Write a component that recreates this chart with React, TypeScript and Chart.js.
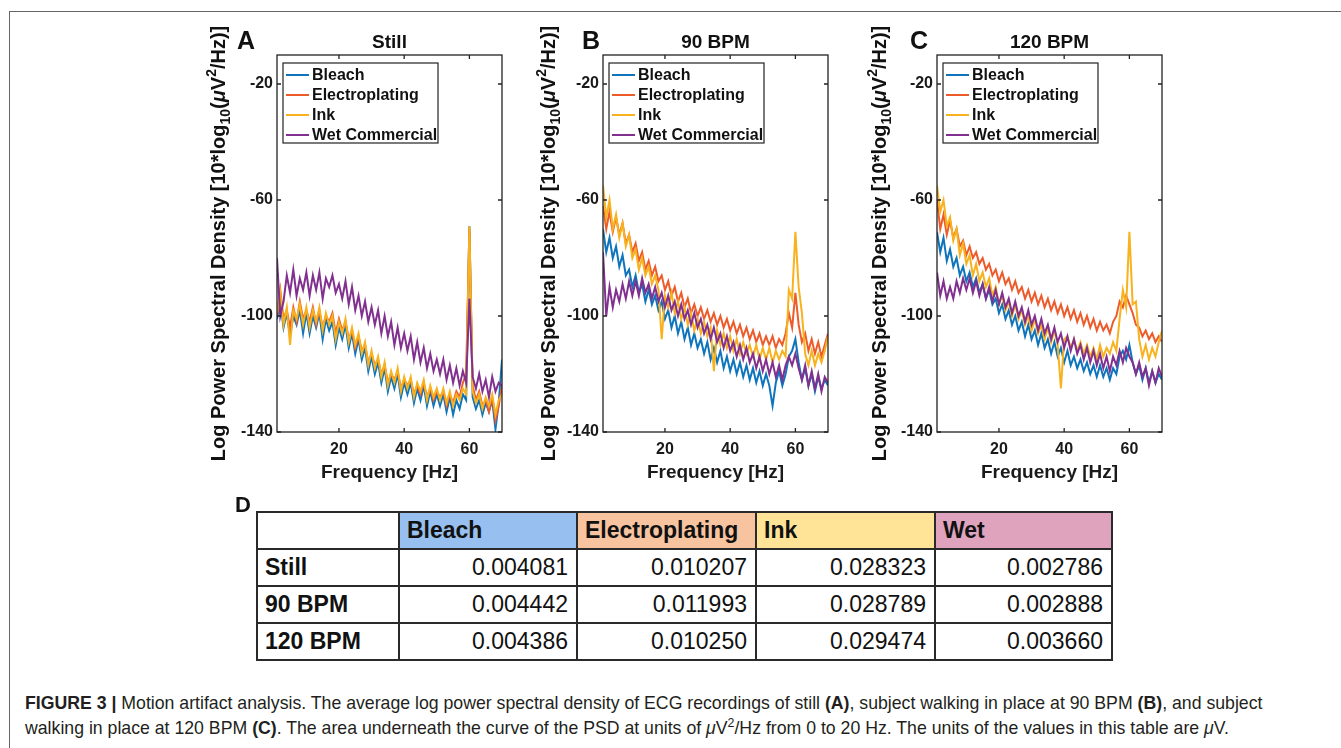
import React, { useEffect, useRef } from "react";
import { Chart, registerables } from "chart.js";

Chart.register(...registerables);

const FONT = "'Liberation Sans', Arial, Helvetica, sans-serif";

// ---------- data ----------
const frequencyHz = [
  1, 2, 3, 4, 5, 6, 7, 8, 9, 10,
  11, 12, 13, 14, 15, 16, 17, 18, 19, 20,
  21, 22, 23, 24, 25, 26, 27, 28, 29, 30,
  31, 32, 33, 34, 35, 36, 37, 38, 39, 40,
  41, 42, 43, 44, 45, 46, 47, 48, 49, 50,
  51, 52, 53, 54, 55, 56, 57, 58, 59, 60,
  61, 62, 63, 64, 65, 66, 67, 68, 69, 70,
];
const seriesNames = ["Bleach", "Electroplating", "Ink", "Wet Commercial"];
const seriesColors = ["#0E74BC", "#EE5B2B", "#F7B21E", "#82308F"];
const xTickValues = [20, 40, 60];
const yTickValues = [-140, -100, -60, -20];
const panelTitles = ["Still", "90 BPM", "120 BPM"];
const panelLetters = ["A", "B", "C"];

// Still
const stillBleach = [
  -101, -95, -104, -99, -107, -100, -103, -98, -106, -99,
  -106, -100, -104, -99, -108, -101, -105, -102, -110, -104,
  -108, -103, -111, -106, -113, -108, -115, -111, -119, -114,
  -120, -116, -123, -118, -126, -121, -125, -120, -128, -123,
  -127, -123, -130, -125, -129, -124, -131, -126, -131, -127,
  -131, -127, -133, -128, -134, -129, -132, -127, -129, -69,
  -128, -132, -129, -134, -130, -133, -129, -139, -130, -115,
];
const stillElectroplating = [
  -100, -91, -101, -98, -104, -97, -102, -95, -101, -98,
  -102, -97, -103, -98, -104, -100, -102, -99, -106, -101,
  -105, -102, -108, -105, -111, -107, -112, -110, -116, -113,
  -117, -115, -120, -117, -123, -120, -122, -119, -125, -122,
  -124, -122, -127, -124, -127, -123, -128, -125, -129, -126,
  -128, -126, -131, -127, -130, -126, -128, -123, -120, -70,
  -124, -129, -126, -131, -129, -133, -128, -136, -131, -124,
];
const stillInk = [
  -99, -92, -103, -97, -110, -98, -101, -96, -103, -97,
  -104, -98, -102, -97, -105, -99, -103, -100, -108, -102,
  -106, -101, -109, -104, -110, -106, -113, -109, -117, -112,
  -118, -114, -121, -116, -124, -119, -123, -118, -126, -121,
  -125, -121, -128, -123, -126, -122, -129, -124, -128, -125,
  -129, -125, -130, -126, -131, -127, -129, -125, -127, -69,
  -126, -130, -127, -132, -128, -131, -127, -134, -129, -127,
];
const stillWet = [
  -80, -100, -95, -86, -92, -84, -93, -87, -91, -85,
  -93, -86, -91, -85, -94, -87, -90, -86, -92, -89,
  -94, -88, -96, -90, -98, -93, -100, -95, -102, -97,
  -103, -98, -106, -100, -107, -102, -110, -104, -111, -106,
  -112, -107, -115, -109, -116, -111, -118, -113, -119, -115,
  -120, -115, -122, -117, -123, -118, -124, -119, -123, -94,
  -121, -125, -120, -126, -122, -128, -121, -126, -123, -124,
];

// 90 BPM
const bpm90Bleach = [
  -70, -78, -73, -80, -76, -83, -79, -86, -84, -90,
  -86, -92, -89, -95, -91, -96, -93, -98, -95, -101,
  -98, -104, -100, -106, -102, -108, -104, -110, -106, -111,
  -108, -113, -109, -115, -111, -116, -112, -118, -114, -119,
  -115, -120, -116, -121, -117, -122, -118, -123, -119, -124,
  -120, -124, -131, -123, -119, -124, -120, -114, -112, -108,
  -116, -122, -118, -124, -120, -126, -121, -125, -122, -124,
];
const bpm90Electroplating = [
  -62, -70, -64, -71, -66, -72, -68, -75, -72, -78,
  -75, -81, -78, -84, -81, -86, -83, -88, -86, -91,
  -88, -93, -90, -95, -92, -97, -94, -99, -96, -100,
  -97, -101, -98, -102, -99, -103, -100, -104, -101, -105,
  -102, -106, -103, -107, -104, -108, -105, -109, -106, -110,
  -107, -110, -107, -111, -108, -110, -106, -99, -104, -92,
  -103, -109, -106, -112, -108, -113, -109, -114, -110, -106,
];
const bpm90Ink = [
  -55, -66, -60, -70, -65, -73, -68, -76, -72, -80,
  -77, -84, -80, -86, -83, -89, -86, -91, -108, -93,
  -97, -92, -99, -95, -101, -97, -103, -99, -105, -101,
  -106, -102, -107, -104, -119, -105, -110, -106, -111, -107,
  -112, -108, -113, -109, -113, -110, -114, -110, -115, -111,
  -115, -111, -116, -112, -115, -112, -114, -91, -94, -71,
  -90, -99, -113, -117, -112, -117, -113, -116, -112, -107,
];
const bpm90Wet = [
  -78, -100, -90, -97, -91, -95, -89, -94, -88, -93,
  -88, -93, -87, -92, -89, -94, -90, -95, -92, -97,
  -93, -98, -95, -100, -96, -101, -98, -103, -99, -104,
  -101, -106, -103, -108, -104, -109, -106, -111, -107, -112,
  -109, -114, -110, -115, -111, -116, -113, -118, -114, -119,
  -115, -120, -116, -121, -117, -122, -117, -114, -117, -113,
  -118, -122, -117, -124, -119, -125, -120, -126, -121, -123,
];

// 120 BPM
const bpm120Bleach = [
  -71, -78, -73, -81, -77, -83, -80, -86, -83, -88,
  -85, -90, -87, -92, -89, -94, -91, -96, -94, -99,
  -96, -101, -98, -103, -100, -105, -102, -107, -103, -108,
  -105, -110, -106, -111, -108, -113, -109, -114, -111, -116,
  -112, -117, -114, -118, -115, -119, -116, -120, -117, -121,
  -117, -121, -118, -122, -118, -120, -114, -112, -115, -110,
  -116, -120, -117, -122, -118, -123, -119, -123, -120, -122,
];
const bpm120Electroplating = [
  -60, -70, -65, -72, -67, -73, -70, -76, -74, -79,
  -76, -80, -78, -82, -80, -84, -82, -86, -84, -88,
  -85, -89, -87, -91, -88, -92, -90, -94, -91, -95,
  -92, -96, -93, -97, -94, -98, -95, -99, -96, -100,
  -97, -101, -98, -102, -99, -103, -100, -104, -101, -105,
  -102, -105, -103, -106, -102, -100, -95, -97, -93, -96,
  -99, -103, -104, -107, -105, -108, -106, -109, -107, -109,
];
const bpm120Ink = [
  -55, -64, -60, -69, -66, -74, -70, -79, -75, -82,
  -79, -86, -82, -88, -85, -90, -87, -93, -90, -96,
  -93, -98, -95, -100, -96, -101, -98, -103, -100, -105,
  -101, -106, -103, -108, -104, -109, -105, -110, -125, -108,
  -107, -111, -108, -112, -109, -113, -110, -114, -111, -115,
  -110, -114, -111, -113, -109, -112, -101, -91, -97, -71,
  -96, -95, -108, -114, -110, -115, -111, -114, -109, -105,
];
const bpm120Wet = [
  -85, -93, -88, -94, -90, -94, -88, -92, -87, -91,
  -87, -92, -88, -93, -89, -94, -90, -95, -91, -96,
  -92, -97, -94, -99, -95, -100, -97, -102, -98, -103,
  -100, -105, -101, -106, -103, -108, -104, -109, -106, -111,
  -107, -112, -108, -113, -110, -115, -111, -116, -112, -117,
  -113, -118, -114, -119, -114, -117, -112, -116, -111, -114,
  -116, -120, -116, -121, -118, -124, -119, -123, -118, -121,
];

// Table D
const tableColumns = ["Bleach", "Electroplating", "Ink", "Wet"];
const tableRows = ["Still", "90 BPM", "120 BPM"];
const bleachArea = [0.004081, 0.004442, 0.004386];
const electroplatingArea = [0.010207, 0.011993, 0.01025];
const inkArea = [0.028323, 0.028789, 0.029474];
const wetArea = [0.002786, 0.002888, 0.00366];
const headerColors = ["#97BFEF", "#F8C4A0", "#FFE497", "#E0A3BE"];

// ---------- layout ----------
const panels = [
  { series: [stillBleach, stillElectroplating, stillInk, stillWet], plotLeft: 277, plotRight: 502, letterX: 237, yTitleX: 218 },
  { series: [bpm90Bleach, bpm90Electroplating, bpm90Ink, bpm90Wet], plotLeft: 603, plotRight: 828, letterX: 582, yTitleX: 548 },
  { series: [bpm120Bleach, bpm120Electroplating, bpm120Ink, bpm120Wet], plotLeft: 937, plotRight: 1162, letterX: 910, yTitleX: 879 },
];
const Y_AXIS_W = 80;
const CANVAS_TOP = 15;
const CANVAS_H = 480;
const PLOT_TOP = 55;
const PLOT_BOTTOM = 432;

function PSDPanel({ idx }: { idx: number }) {
  const ref = useRef<HTMLCanvasElement>(null);
  const cfg = panels[idx];
  const canvasLeft = cfg.plotLeft - Y_AXIS_W;
  const canvasW = cfg.plotRight - cfg.plotLeft + Y_AXIS_W + 8;

  useEffect(() => {
    const canvas = ref.current!;
    const decor = {
      id: "panelDecor" + idx,
      afterDraw(chart: any) {
        const { ctx, chartArea: a, scales } = chart;
        const xs = scales.x;
        const ys = scales.y;
        ctx.save();
        // axes box
        ctx.strokeStyle = "#222";
        ctx.lineWidth = 1.3;
        ctx.strokeRect(a.left, a.top, a.right - a.left, a.bottom - a.top);
        // inward ticks
        const tl = 4;
        ctx.beginPath();
        xs.ticks.forEach((t: any) => {
          const px = xs.getPixelForValue(t.value);
          ctx.moveTo(px, a.bottom);
          ctx.lineTo(px, a.bottom - tl);
          ctx.moveTo(px, a.top);
          ctx.lineTo(px, a.top + tl);
        });
        ys.ticks.forEach((t: any) => {
          const py = ys.getPixelForValue(t.value);
          ctx.moveTo(a.left, py);
          ctx.lineTo(a.left + tl, py);
          ctx.moveTo(a.right, py);
          ctx.lineTo(a.right - tl, py);
        });
        ctx.stroke();

        // legend
        const lx = a.left + 6;
        const ly = a.top + 8;
        const lw = 155;
        const lh = 80;
        ctx.fillStyle = "#fff";
        ctx.fillRect(lx, ly, lw, lh);
        ctx.strokeStyle = "#222";
        ctx.lineWidth = 1.2;
        ctx.strokeRect(lx, ly, lw, lh);
        ctx.font = `bold 16px ${FONT}`;
        ctx.textBaseline = "middle";
        ctx.textAlign = "left";
        chart.data.datasets.forEach((ds: any, i: number) => {
          const cy = ly + 12 + i * 20;
          ctx.strokeStyle = ds.borderColor;
          ctx.lineWidth = 2;
          ctx.beginPath();
          ctx.moveTo(lx + 3, cy);
          ctx.lineTo(lx + 26, cy);
          ctx.stroke();
          ctx.fillStyle = "#111";
          ctx.fillText(ds.label, lx + 29, cy + 1);
        });

        // title and panel letter
        ctx.fillStyle = "#111";
        ctx.textBaseline = "alphabetic";
        ctx.font = `bold 19px ${FONT}`;
        ctx.textAlign = "center";
        ctx.fillText(panelTitles[idx], (a.left + a.right) / 2, 48 - CANVAS_TOP);
        ctx.font = `bold 25px ${FONT}`;
        ctx.textAlign = "left";
        ctx.fillText(panelLetters[idx], cfg.letterX - canvasLeft, 48.5 - CANVAS_TOP);

        // y-axis title with sub/superscripts
        const fs = 20;
        const segs = [
          { t: "Log Power Spectral Density [10*log", s: 1, dy: 0, it: false },
          { t: "10", s: 0.7, dy: 0.25, it: false },
          { t: "(", s: 1, dy: 0, it: false },
          { t: "\u03bc", s: 1, dy: 0, it: true },
          { t: "V", s: 1, dy: 0, it: false },
          { t: "2", s: 0.7, dy: -0.45, it: false },
          { t: "/Hz)]", s: 1, dy: 0, it: false },
        ];
        const fontFor = (sg: any) => `${sg.it ? "italic " : ""}bold ${fs * sg.s}px ${FONT}`;
        let total = 0;
        segs.forEach((sg) => {
          ctx.font = fontFor(sg);
          total += ctx.measureText(sg.t).width;
        });
        ctx.translate(cfg.yTitleX - canvasLeft, (a.top + a.bottom) / 2);
        ctx.rotate(-Math.PI / 2);
        ctx.textAlign = "left";
        let u = -total / 2;
        const base = 0.36 * fs;
        segs.forEach((sg) => {
          ctx.font = fontFor(sg);
          ctx.fillText(sg.t, u, base + sg.dy * fs);
          u += ctx.measureText(sg.t).width;
        });
        ctx.restore();
      },
    };

    const chart = new Chart(canvas, {
      type: "line",
      data: {
        datasets: cfg.series.map((vals, i) => ({
          label: seriesNames[i],
          data: frequencyHz.map((f, j) => ({ x: f, y: vals[j] })),
          borderColor: seriesColors[i],
          backgroundColor: seriesColors[i],
          borderWidth: 2,
          pointRadius: 0,
          tension: 0,
          fill: false,
          order: seriesNames.length - i,
        })),
      },
      options: {
        responsive: false,
        animation: false,
        devicePixelRatio: 1,
        layout: { padding: { top: PLOT_TOP - CANVAS_TOP, right: 8, left: 0, bottom: 0 } },
        plugins: {
          legend: { display: false },
          tooltip: { enabled: false },
          title: { display: false },
        },
        scales: {
          x: {
            type: "linear",
            min: 1,
            max: 70,
            afterBuildTicks: (s: any) => {
              s.ticks = xTickValues.map((v) => ({ value: v }));
            },
            afterFit: (s: any) => {
              s.height = CANVAS_TOP + CANVAS_H - PLOT_BOTTOM;
            },
            grid: { display: false, drawTicks: false },
            border: { display: false },
            ticks: {
              font: { family: FONT, size: 16, weight: "bold" },
              color: "#1a1a1a",
              padding: 8,
              maxRotation: 0,
              autoSkip: false,
            },
            title: {
              display: true,
              text: "Frequency [Hz]",
              font: { family: FONT, size: 19, weight: "bold" },
              color: "#1a1a1a",
              padding: { top: 0, bottom: 11 },
            },
          },
          y: {
            type: "linear",
            min: -140,
            max: -10,
            afterBuildTicks: (s: any) => {
              s.ticks = yTickValues.map((v) => ({ value: v }));
            },
            afterFit: (s: any) => {
              s.width = Y_AXIS_W;
            },
            grid: { display: false, drawTicks: false },
            border: { display: false },
            ticks: {
              font: { family: FONT, size: 16, weight: "bold" },
              color: "#1a1a1a",
              padding: 4,
              autoSkip: false,
            },
          },
        },
      } as any,
      plugins: [decor],
    });
    return () => chart.destroy();
  }, []);

  return (
    <canvas
      ref={ref}
      width={canvasW}
      height={CANVAS_H}
      style={{ position: "absolute", left: canvasLeft, top: CANVAS_TOP, width: canvasW, height: CANVAS_H }}
    />
  );
}

const colWidths = [142, 178, 179, 179, 177];
const tableValues = [bleachArea, electroplatingArea, inkArea, wetArea];

export default function App() {
  const cellBorder = "2px solid #2a2a2a";
  return (
    <div
      style={{
        position: "absolute",
        left: 0,
        top: 0,
        width: 1341,
        height: 748,
        overflow: "hidden",
        background: "#fff",
        fontFamily: FONT,
        color: "#111",
      }}
    >
      <div
        style={{
          position: "absolute",
          left: 9,
          top: 11,
          width: 1400,
          height: 800,
          borderLeft: "1px solid #666",
          borderTop: "1px solid #666",
        }}
      />
      {panels.map((_, i) => (
        <PSDPanel key={i} idx={i} />
      ))}

      <div style={{ position: "absolute", left: 235, top: 493, fontSize: 22, fontWeight: "bold", lineHeight: "24px" }}>D</div>
      <table
        style={{
          position: "absolute",
          left: 256,
          top: 511,
          borderCollapse: "collapse",
          tableLayout: "fixed",
          width: 856,
          fontSize: 23,
          color: "#111",
        }}
      >
        <colgroup>
          {colWidths.map((w, i) => (
            <col key={i} style={{ width: w }} />
          ))}
        </colgroup>
        <tbody>
          <tr style={{ height: 37 }}>
            <td style={{ border: cellBorder, padding: 0 }} />
            {tableColumns.map((c, i) => (
              <td
                key={c}
                style={{
                  border: cellBorder,
                  background: headerColors[i],
                  fontWeight: "bold",
                  padding: "0 0 0 7px",
                  whiteSpace: "nowrap",
                }}
              >
                {c}
              </td>
            ))}
          </tr>
          {tableRows.map((r, ri) => (
            <tr key={r} style={{ height: 37 }}>
              <td style={{ border: cellBorder, fontWeight: "bold", padding: "0 0 0 7px", whiteSpace: "nowrap" }}>{r}</td>
              {tableValues.map((vals, ci) => (
                <td key={ci} style={{ border: cellBorder, textAlign: "right", padding: "0 8px 0 0" }}>
                  {vals[ri].toFixed(6)}
                </td>
              ))}
            </tr>
          ))}
        </tbody>
      </table>

      <div
        style={{
          position: "absolute",
          left: 25,
          top: 691,
          fontSize: 17.7,
          lineHeight: "25px",
          color: "#231f20",
          whiteSpace: "nowrap",
        }}
      >
        <div>
          <b>FIGURE 3 |</b> Motion artifact analysis. The average log power spectral density of ECG recordings of still{" "}
          <b>(A)</b>, subject walking in place at 90 BPM <b>(B)</b>, and subject
        </div>
        <div>
          walking in place at 120 BPM <b>(C)</b>. The area underneath the curve of the PSD at units of <i>μ</i>V
          <sup style={{ fontSize: "0.7em", lineHeight: 0, verticalAlign: "0.55em" }}>2</sup>/Hz from 0 to 20 Hz. The
          units of the values in this table are <i>μ</i>V.
        </div>
      </div>
    </div>
  );
}
